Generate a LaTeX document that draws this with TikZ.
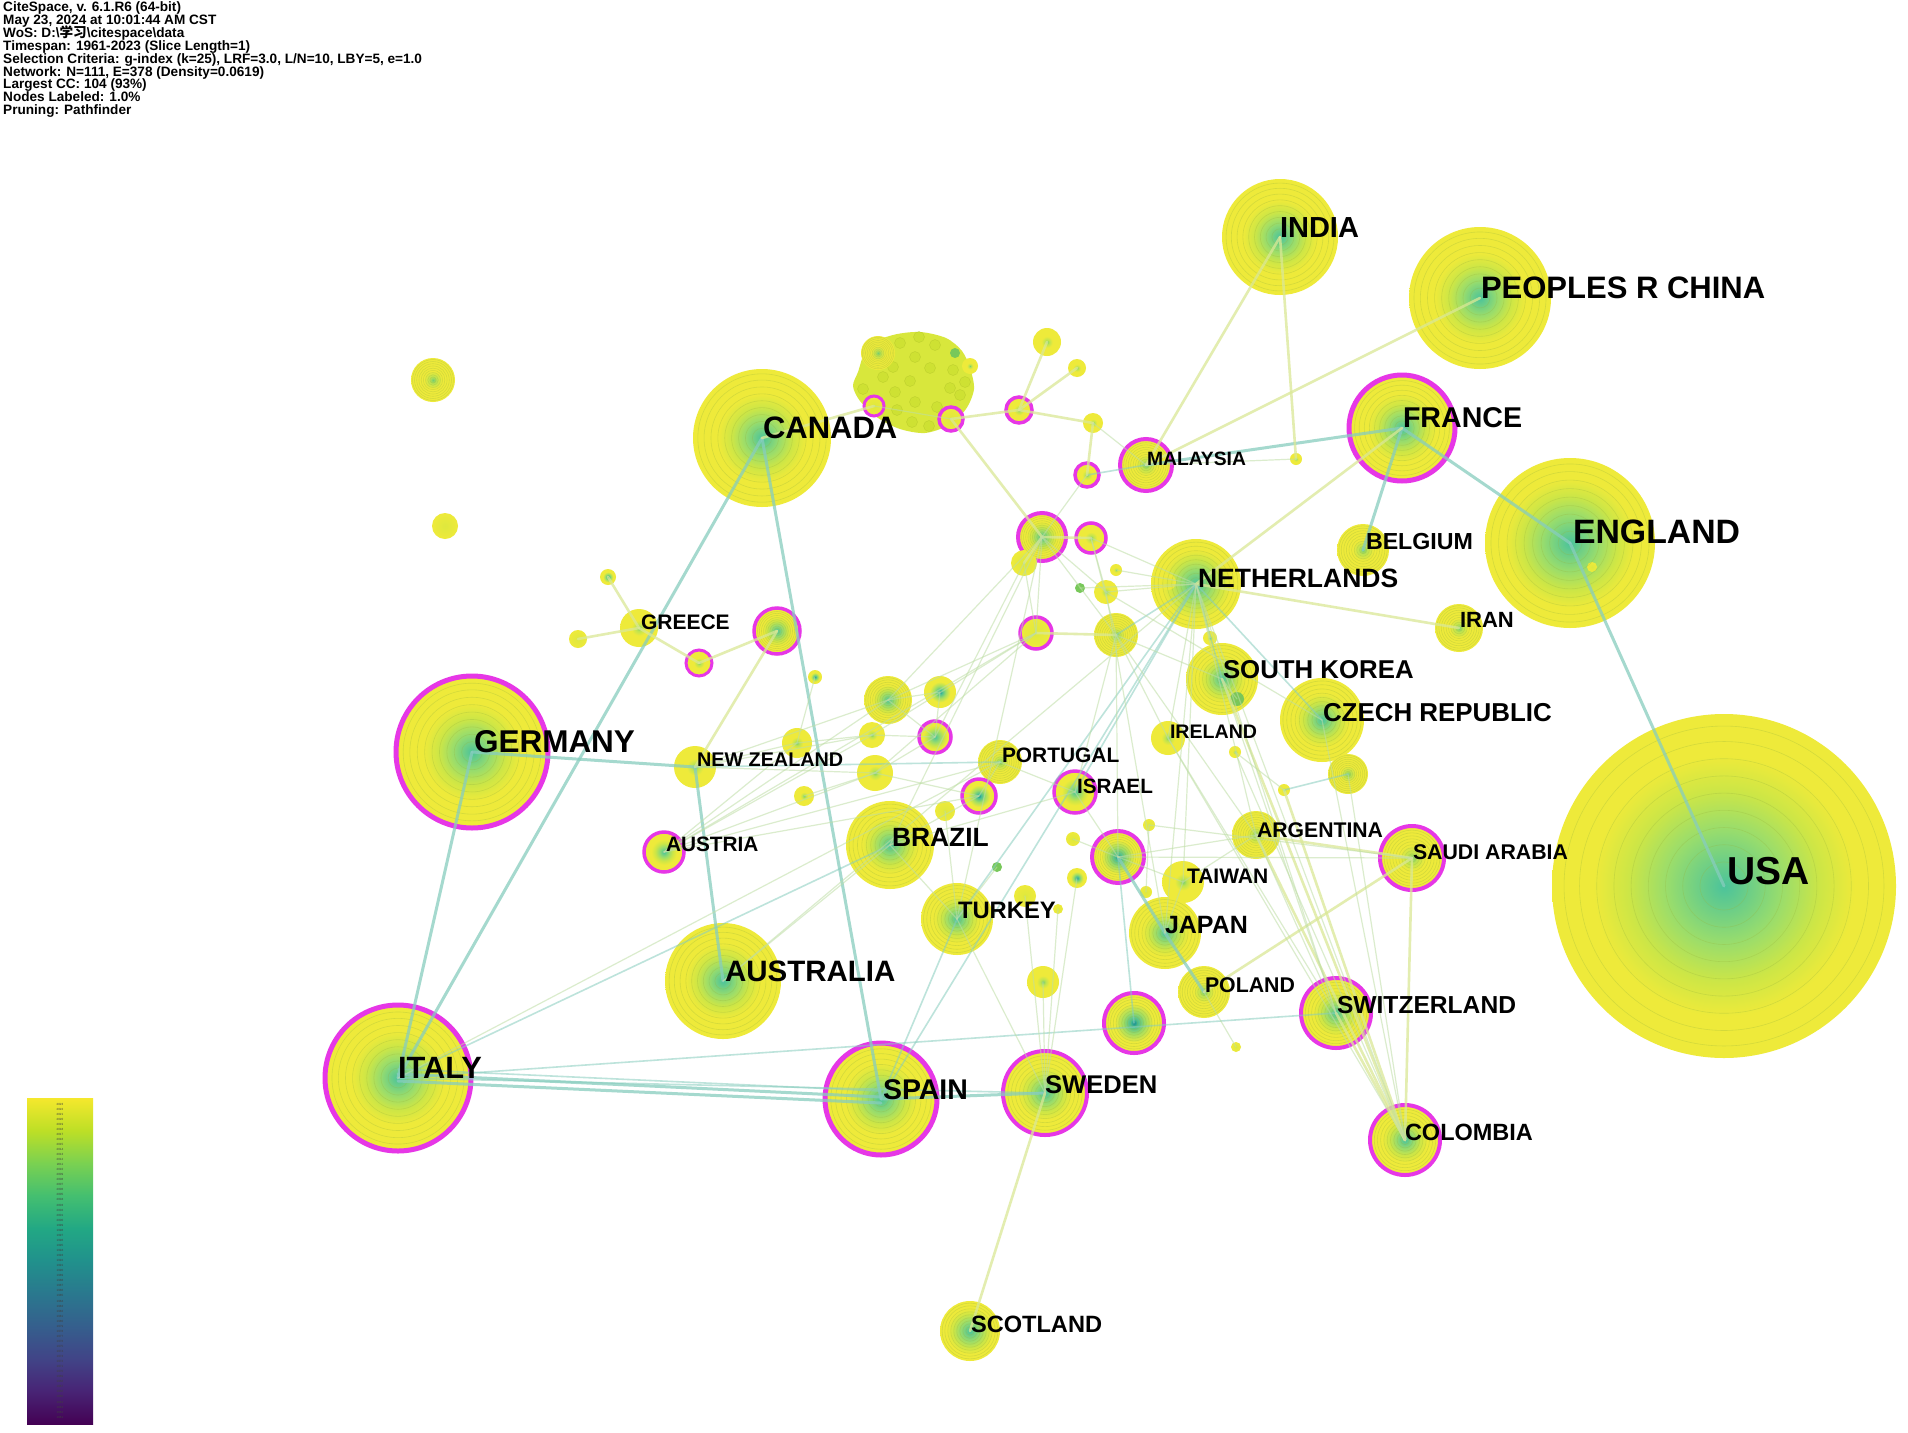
\documentclass[tikz,border=0pt]{standalone}
\usepackage{fontspec}
\setmainfont{Liberation Sans}
\newfontfamily\cjk{Noto Sans CJK SC}
\definecolor{cCore}{RGB}{75,195,155}
\definecolor{cMid}{RGB}{150,220,110}
\definecolor{cYG}{RGB}{205,230,70}
\definecolor{cY}{RGB}{238,234,58}
\definecolor{sCore}{RGB}{120,205,110}
\definecolor{sMid}{RGB}{190,228,80}
\definecolor{tCore}{RGB}{25,140,140}
\definecolor{tMid}{RGB}{70,190,150}
\definecolor{tMidB}{RGB}{160,222,100}
\definecolor{pCore}{RGB}{222,232,62}
\definecolor{mag}{RGB}{230,55,230}
\definecolor{edgeT}{RGB}{135,205,190}
\definecolor{edgeP}{RGB}{218,232,150}
\definecolor{edgeM}{RGB}{190,222,165}
\definecolor{ringc}{RGB}{150,180,60}
\definecolor{blobc}{RGB}{214,230,50}
\definecolor{blobd}{RGB}{200,222,45}
\definecolor{greendot}{RGB}{120,200,90}
\definecolor{vA}{RGB}{68,1,84}
\definecolor{vB}{RGB}{72,36,117}
\definecolor{vC}{RGB}{65,68,135}
\definecolor{vD}{RGB}{53,95,141}
\definecolor{vE}{RGB}{42,120,142}
\definecolor{vF}{RGB}{33,145,140}
\definecolor{vG}{RGB}{34,168,132}
\definecolor{vH}{RGB}{68,191,112}
\definecolor{vI}{RGB}{122,209,81}
\definecolor{vJ}{RGB}{189,223,38}
\definecolor{vK}{RGB}{245,232,45}
% radial shadings: the path's circle edge sits at 25bp
\pgfdeclareradialshading{hugenode}{\pgfpointorigin}{color(0bp)=(cCore); color(8bp)=(cMid); color(14bp)=(cYG); color(19bp)=(cY); color(50bp)=(cY)}
\pgfdeclareradialshading{bignode}{\pgfpointorigin}{color(0bp)=(cCore); color(6bp)=(cMid); color(11bp)=(cYG); color(16bp)=(cY); color(50bp)=(cY)}
\pgfdeclareradialshading{smallnode}{\pgfpointorigin}{color(0bp)=(sCore); color(4bp)=(sMid); color(10bp)=(cY); color(50bp)=(cY)}
\pgfdeclareradialshading{tealnode}{\pgfpointorigin}{color(0bp)=(tCore); color(3bp)=(tMid); color(9bp)=(tMidB); color(16bp)=(cY); color(50bp)=(cY)}
\pgfdeclareradialshading{plainnode}{\pgfpointorigin}{color(0bp)=(pCore); color(25bp)=(cY); color(50bp)=(cY)}
\pgfdeclareverticalshading{viridisbar}{100bp}{color(0bp)=(vA); color(25bp)=(vA); color(30bp)=(vB); color(35bp)=(vC); color(40bp)=(vD); color(45bp)=(vE); color(50bp)=(vF); color(55bp)=(vG); color(60bp)=(vH); color(65bp)=(vI); color(70bp)=(vJ); color(75bp)=(vK); color(100bp)=(vK)}
\newcommand\nrings[2]{\foreach \f in {0.14,0.24,0.34,0.44,0.54,0.64,0.74,0.84,0.93}{\pgfmathsetmacro\rr{#2*\f}\draw[ringst] (#1.center) circle (\rr pt);}}
\begin{document}
\begin{tikzpicture}[x=1pt,y=-1pt,
  nh/.style={circle,inner sep=0pt,outer sep=0pt,minimum size=#1pt,shade,shading=hugenode},
  nb/.style={circle,inner sep=0pt,outer sep=0pt,minimum size=#1pt,shade,shading=bignode},
  ns/.style={circle,inner sep=0pt,outer sep=0pt,minimum size=#1pt,shade,shading=smallnode},
  nt/.style={circle,inner sep=0pt,outer sep=0pt,minimum size=#1pt,shade,shading=tealnode},
  np/.style={circle,inner sep=0pt,outer sep=0pt,minimum size=#1pt,shade,shading=plainnode},
  ng/.style={circle,inner sep=0pt,outer sep=0pt,minimum size=#1pt,fill=greendot},
  mg/.style={draw=mag,line width=#1pt},
  ringst/.style={draw=ringc,line width=0.6pt,opacity=0.3},
  te/.style={draw=edgeT,line width=3pt,opacity=0.75,line cap=round},
  tt/.style={draw=edgeT,line width=1.6pt,opacity=0.55,line cap=round},
  pe/.style={draw=edgeP,line width=2.6pt,opacity=0.75,line cap=round},
  pt/.style={draw=edgeM,line width=1.2pt,opacity=0.55,line cap=round},
  lab/.style={anchor=west,inner sep=0pt,outer sep=0pt,font=\bfseries\fontsize{#1}{#1}\selectfont,text=black},
  hdr/.style={anchor=base west,inner sep=0pt,font=\bfseries\fontsize{13.6}{13}\selectfont},
  yrlab/.style={inner sep=0pt,font=\fontsize{3}{3}\selectfont,text=black!75}]
\fill[white] (0,0) rectangle (1908,1432);
\useasboundingbox (0,0) rectangle (1908,1432);

% header
\node[hdr] (h1) at (3,11.5) {CiteSpace, v. 6.1.R6 (64-bit)};
\node[hdr] (h2) at (3,24.4) {May 23, 2024 at 10:01:44 AM CST};
\node[hdr] (h3) at (3,37.3) {WoS: D:\textbackslash{\cjk 学习}\textbackslash citespace\textbackslash data};
\node[hdr] (h4) at (3,50.2) {Timespan: 1961-2023 (Slice Length=1)};
\node[hdr] (h5) at (3,63.1) {Selection Criteria: g-index (k=25), LRF=3.0, L/N=10, LBY=5, e=1.0};
\node[hdr] (h6) at (3,76.0) {Network: N=111, E=378 (Density=0.0619)};
\node[hdr] (h7) at (3,88.9) {Largest CC: 104 (93\%)};
\node[hdr] (h8) at (3,101.8) {Nodes Labeled: 1.0\%};
\node[hdr] (h9) at (3,114.7) {Pruning: Pathfinder};

% colour bar
\shade[shading=viridisbar] (27,1098) rectangle (93,1424);
\foreach \i in {0,...,62}{\pgfmathtruncatemacro\yr{2023-\i}\node[yrlab] (yr\i) at (60,{1104+\i*5.05}) {\yr};}

% blob cluster
\fill[blobc,opacity=0.95] plot[smooth cycle] coordinates {(858,372) (868,346) (893,335) (920,332) (946,338) (962,351) (970,368) (974,389) (966,409) (949,425) (925,433) (900,429) (878,418) (860,401) (853,386)};
\foreach \p [count=\k] in {(900,343),(919,337),(935,345),(883,377),(863,389),(895,392),(910,381),(930,368),(953,370),(965,382),(960,395),(937,407),(915,402),(897,410),(912,422),(929,426),(950,388),(915,357),(893,367)}
  \node[circle,inner sep=0pt,minimum size=11pt,fill=blobd,draw=blobd!85!black,line width=0.3pt,opacity=0.6] (bd\k) at \p {};
\node[ns=34] (bb1) at (878,353) {};
\nrings{bb1}{17}
\node[ns=16] (bb2) at (970,366) {};
\node[ng=10] (bb3) at (955,353) {};

% nodes: labelled
\node[nh=344] (usa) at (1724,886) {};
\node[nh=170] (eng) at (1570,543) {};
\node[nb=142] (chn) at (1480,298) {};
\node[nb=116] (ind) at (1280,237) {};
\node[nb=106,mg=5] (fra) at (1402,428) {};
\node[nb=138] (can) at (762,438) {};
\node[nb=152,mg=5] (ger) at (472,752) {};
\node[nb=146,mg=5] (ita) at (398,1078) {};
\node[nb=112,mg=5] (spa) at (881,1099) {};
\node[nb=84,mg=4] (swe) at (1045,1093) {};
\node[nb=116] (aus) at (723,981) {};
\node[nb=88] (bra) at (890,845) {};
\node[nh=90] (net) at (1196,584) {};
\node[nb=72] (kor) at (1222,679) {};
\node[nb=84] (cze) at (1322,720) {};
\node[nb=72] (jpn) at (1165,933) {};
\node[nb=72] (tur) at (957,919) {};
\node[nb=70,mg=4] (swi) at (1336,1013) {};
\node[nb=70,mg=4] (col) at (1405,1140) {};
\node[ns=64,mg=4] (sau) at (1412,858) {};
\node[nh=60] (sco) at (970,1331) {};
\node[ns=52] (pol) at (1204,992) {};
\node[ns=42] (twn) at (1183,882) {};
\node[ns=48] (arg) at (1256,835) {};
\node[ns=34] (ire) at (1168,738) {};
\node[nb=42,mg=3.5] (isr) at (1075,792) {};
\node[ns=44] (por) at (1000,762) {};
\node[ns=42] (nzl) at (695,767) {};
\node[nb=40,mg=3.5] (aut) at (664,852) {};
\node[ns=38] (gre) at (639,628) {};
\node[ns=52,mg=4] (mal) at (1146,465) {};
\node[ns=52] (bel) at (1363,550) {};
\node[ns=48] (irn) at (1459,628) {};

% nodes: unlabelled
\node[ns=44] (u1) at (433,380) {};
\node[np=26] (u2) at (445,526) {};
\node[nt=16] (u3) at (608,577) {};
\node[np=18] (u4) at (578,639) {};
\node[ns=26,mg=3] (u5) at (699,663) {};
\node[nb=46,mg=3.5] (u6) at (777,631) {};
\node[np=20,mg=3] (u7) at (874,406) {};
\node[np=24,mg=3.5] (u8) at (951,419) {};
\node[ns=26,mg=3.5] (u9) at (1019,410) {};
\node[ns=28] (u10) at (1047,342) {};
\node[ns=18] (u11) at (1077,368) {};
\node[ns=20] (u12) at (1093,423) {};
\node[ns=24,mg=3.5] (u13) at (1087,475) {};
\node[nb=48,mg=4] (u14) at (1042,537) {};
\node[ns=30,mg=3.5] (u15) at (1091,538) {};
\node[np=26] (u16) at (1024,563) {};
\node[ns=12] (u17) at (1116,570) {};
\node[ng=10] (u18) at (1080,588) {};
\node[ns=24] (u19) at (1106,592) {};
\node[np=32,mg=3.5] (u20) at (1036,633) {};
\node[ns=44] (u21) at (1116,635) {};
\node[ns=12] (u22) at (1296,459) {};
\node[nt=14] (u23) at (815,677) {};
\node[nb=48] (u24) at (888,700) {};
\node[nt=32] (u25) at (940,692) {};
\node[nh=32,mg=3.5] (u26) at (935,737) {};
\node[ns=26] (u27) at (872,735) {};
\node[ns=30] (u28) at (797,743) {};
\node[ns=36] (u29) at (875,773) {};
\node[ns=20] (u30) at (804,796) {};
\node[nt=34,mg=3.5] (u31) at (979,796) {};
\node[np=20] (u32) at (945,811) {};
\node[np=14] (u33) at (1073,839) {};
\node[np=12] (u34) at (1149,825) {};
\node[ng=10] (u35) at (997,867) {};
\node[nt=52,mg=4] (u36) at (1118,857) {};
\node[nt=20] (u37) at (1077,878) {};
\node[np=22] (u38) at (1025,896) {};
\node[np=12] (u39) at (1146,892) {};
\node[np=10] (u40) at (1058,909) {};
\node[ns=32] (u41) at (1043,982) {};
\node[nt=60,mg=4] (u42) at (1134,1023) {};
\node[np=10] (u43) at (1236,1047) {};
\node[ng=14] (u44) at (1237,699) {};
\node[ns=12] (u45) at (1235,752) {};
\node[ns=12] (u46) at (1284,790) {};
\node[ns=40] (u47) at (1348,774) {};
\node[ns=14] (u48) at (1210,638) {};
\node[np=10] (u49) at (1592,567) {};
\node[np=16] (u50) at (1168,582) {};

% rings on larger nodes
\nrings{usa}{172}\nrings{eng}{85}\nrings{chn}{71}\nrings{ind}{58}\nrings{fra}{51}
\nrings{can}{69}\nrings{ger}{74}\nrings{ita}{71}\nrings{spa}{54}\nrings{swe}{40}
\nrings{aus}{58}\nrings{bra}{44}\nrings{net}{45}\nrings{kor}{36}\nrings{cze}{42}
\nrings{jpn}{36}\nrings{tur}{36}\nrings{swi}{33}\nrings{col}{33}\nrings{sau}{30}
\nrings{sco}{30}\nrings{pol}{26}\nrings{arg}{24}\nrings{u1}{22}\nrings{u6}{21}
\nrings{u14}{22}\nrings{u24}{24}\nrings{u36}{24}\nrings{u42}{28}\nrings{u47}{20}
\nrings{mal}{24}\nrings{bel}{26}\nrings{irn}{24}\nrings{u21}{22}\nrings{por}{22}

% edges
\foreach \a/\b in {ger/ita,ita/can,can/spa,eng/usa,fra/eng,spa/swe,nzl/aus,ger/nzl,fra/bel,fra/mal,u36/jpn,jpn/pol}
  \draw[te] (\a.center) -- (\b.center);
\draw[te] ([yshift=4pt]ita.center) -- ([yshift=2pt]spa.center);
\draw[te] ([yshift=-3pt]ita.center) -- ([yshift=-4pt]spa.center);
\draw[tt] ([yshift=9pt]ita.center) -- ([yshift=8pt]spa.center);
\foreach \a/\b in {ita/swi,net/spa,tur/net,isr/net,net/kor,net/cze,nzl/por,ita/bra,u46/u47,mal/u13,tur/spa,net/u21,u36/u42,ita/swe}
  \draw[tt] (\a.center) -- (\b.center);
\foreach \a/\b in {sco/swe,sau/col,ind/mal,chn/mal,ind/u22,net/fra,net/irn,can/u7,u8/u9,u9/u10,u9/u11,u9/u12,u12/u13,u8/u14,u6/u5,u5/gre,gre/u3,gre/u4,nzl/u6,sau/arg,sau/pol,swi/col,arg/col,kor/col,u46/col,u14/u15,u14/u16,u20/u21}
  \draw[pe] (\a.center) -- (\b.center);
\foreach \a/\b in {cze/col,ire/swi,net/swi,net/col,kor/swi,ire/col,u45/col,arg/swi,u36/sau,u34/sau,u14/bra,u14/u24,u20/u24,u20/u27,u20/u29,u21/isr,u21/u36,u19/jpn,u16/u26,u14/tur,aut/u28,aut/u27,aut/u24,aut/u29,aut/por,aut/u31,aut/u20,nzl/u28,nzl/u27,nzl/u24,nzl/u29,aus/net,aus/bra,swe/u40,swe/u37,swe/u41,swe/tur,u24/u25,u24/u26,u25/u26,u26/u27,u26/u29,u27/u28,u29/u31,u31/bra,u31/por,isr/por,isr/u36,isr/bra,bra/tur,tur/u35,tur/u32,u33/u36,u34/u39,jpn/twn,twn/arg,net/ire,net/arg,net/twn,net/jpn,u21/ire,u21/arg,u15/u19,u15/net,u17/net,u19/net,u18/net,u14/u20,u14/u19,u14/u21,u16/u20,u15/u21,pol/u43,ita/por,u21/kor,u19/cze,kor/u44,u47/col,u45/u46,u12/mal,u36/arg,u36/twn,u38/swe,u48/net,u8/u7,u23/u28,u30/u29,u13/u14,u22/mal}
  \draw[pt] (\a.center) -- (\b.center);

% labels
\node[lab=39] (lusa) at (1727,871) {USA};
\node[lab=33.8] (leng) at (1573,532) {ENGLAND};
\node[lab=31] (lchn) at (1481,288) {PEOPLES R CHINA};
\node[lab=29] (lind) at (1280,228) {INDIA};
\node[lab=28.6] (lfra) at (1403,418) {FRANCE};
\node[lab=31] (lcan) at (763,428) {CANADA};
\node[lab=31.5] (lger) at (474,742) {GERMANY};
\node[lab=30.8] (lita) at (398,1068) {ITALY};
\node[lab=28.5] (lspa) at (883,1090) {SPAIN};
\node[lab=25.6] (lswe) at (1045,1085) {SWEDEN};
\node[lab=29.5] (laus) at (725,971) {AUSTRALIA};
\node[lab=26.4] (lbra) at (892,837) {BRAZIL};
\node[lab=26.5] (lnet) at (1198,578) {NETHERLANDS};
\node[lab=25.8] (lkor) at (1223,670) {SOUTH KOREA};
\node[lab=25.9] (lcze) at (1323,713) {CZECH REPUBLIC};
\node[lab=25] (ljpn) at (1165,925) {JAPAN};
\node[lab=23.8] (ltur) at (958,910) {TURKEY};
\node[lab=24.6] (lswi) at (1337,1005) {SWITZERLAND};
\node[lab=23.5] (lcol) at (1405,1132) {COLOMBIA};
\node[lab=21.3] (lsau) at (1413,852) {SAUDI ARABIA};
\node[lab=23.6] (lsco) at (971,1324) {SCOTLAND};
\node[lab=21.3] (lpol) at (1205,985) {POLAND};
\node[lab=21] (ltwn) at (1187,876) {TAIWAN};
\node[lab=21.2] (larg) at (1257,830) {ARGENTINA};
\node[lab=19.6] (lire) at (1170,732) {IRELAND};
\node[lab=20.7] (lisr) at (1077,786) {ISRAEL};
\node[lab=20.9] (lpor) at (1002,755) {PORTUGAL};
\node[lab=19.8] (lnzl) at (697,760) {NEW ZEALAND};
\node[lab=20.8] (laut) at (666,844) {AUSTRIA};
\node[lab=21] (lgre) at (641,622) {GREECE};
\node[lab=19.3] (lmal) at (1147,459) {MALAYSIA};
\node[lab=23.2] (lbel) at (1366,542) {BELGIUM};
\node[lab=22] (lirn) at (1460,620) {IRAN};
\end{tikzpicture}
\end{document}
